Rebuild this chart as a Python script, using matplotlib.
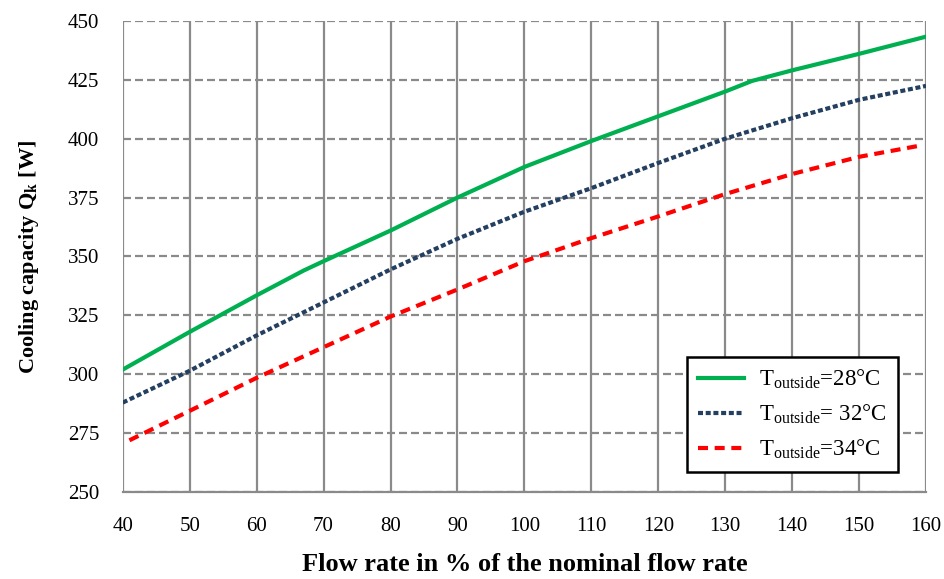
import matplotlib
matplotlib.use("Agg")
import matplotlib.pyplot as plt

plt.rcParams['font.family'] = ['Liberation Serif', 'DejaVu Serif']
plt.rcParams['mathtext.fontset'] = 'custom'
plt.rcParams['mathtext.rm'] = 'Liberation Serif'
plt.rcParams['mathtext.bf'] = 'Liberation Serif:bold'
plt.rcParams['mathtext.it'] = 'Liberation Serif:italic'

# Data
x_28 = [40, 50, 60, 67, 70, 80, 90, 100, 110, 120, 130, 134, 140, 150, 160]
q_28 = [302, 318, 333.5, 344, 348, 361, 375, 388, 399, 409.5, 420, 424.5, 429, 436, 443.3]
x_32 = [40, 50, 60, 70, 80, 90, 100, 110, 120, 130, 140, 150, 160]
q_32 = [288, 301.5, 316.5, 330.5, 344.5, 357.5, 369, 379, 389.7, 400, 408.7, 416.5, 422.4]
x_34 = [41, 50, 60, 70, 80, 90, 100, 110, 120, 130, 140, 150, 159]
q_34 = [272, 284.5, 298.5, 311.5, 324.5, 336, 348, 357.8, 367, 376.5, 385, 392.3, 397]
labels = [r'T$_{\mathrm{outside}}$=28°C', r'T$_{\mathrm{outside}}$= 32°C', r'T$_{\mathrm{outside}}$=34°C']
x_ticks = list(range(40, 161, 10))
y_ticks = list(range(250, 451, 25))

fig = plt.figure(figsize=(9.44, 5.79), dpi=100)
ax = fig.add_axes([0.130, 0.150, 0.851, 0.814])

grid_c = '#8a8a8a'
for xv in x_ticks:
    ax.axvline(xv, color=grid_c, lw=1.6, zorder=1)
for yv in y_ticks:
    ax.axhline(yv, color=grid_c, lw=1.6, ls=(0, (3.6, 1.8)), zorder=1)

ax.plot(x_28, q_28, color='#00B050', lw=3.0, label=labels[0], zorder=3)
ax.plot(x_32, q_32, color='#243F60', lw=3.0, ls=(0, (1.2, 0.65)), label=labels[1], zorder=3)
ax.plot(x_34, q_34, color='#FF0000', lw=3.0, ls=(0, (2.4, 1.6)), label=labels[2], zorder=3)

ax.set_xlim(40, 160)
ax.set_ylim(250, 450)
ax.set_xticks(x_ticks)
ax.set_yticks(y_ticks)
ax.tick_params(axis='both', length=0, labelsize=15)
ax.tick_params(axis='y', pad=17)
ax.tick_params(axis='x', pad=18)
for s in ['top', 'right', 'left']:
    ax.spines[s].set_visible(False)
ax.spines['bottom'].set_color(grid_c)
ax.spines['bottom'].set_linewidth(1.6)

ax.set_xlabel('Flow rate in % of the nominal flow rate', fontsize=19, fontweight='bold', labelpad=12)
ax.set_ylabel(r'Cooling capacity Q$_\mathbf{k}$ [W]', fontsize=16, fontweight='bold', labelpad=19)

leg = ax.legend(loc='lower right', bbox_to_anchor=(0.965, 0.042), fontsize=16.5,
                frameon=True, fancybox=False, edgecolor='black', framealpha=1,
                handlelength=2.0, handletextpad=0.65, labelspacing=0.5,
                borderpad=0.5, borderaxespad=0)
leg.get_frame().set_linewidth(1.8)
leg.set_zorder(5)

fig.savefig('out.png', dpi=100)
